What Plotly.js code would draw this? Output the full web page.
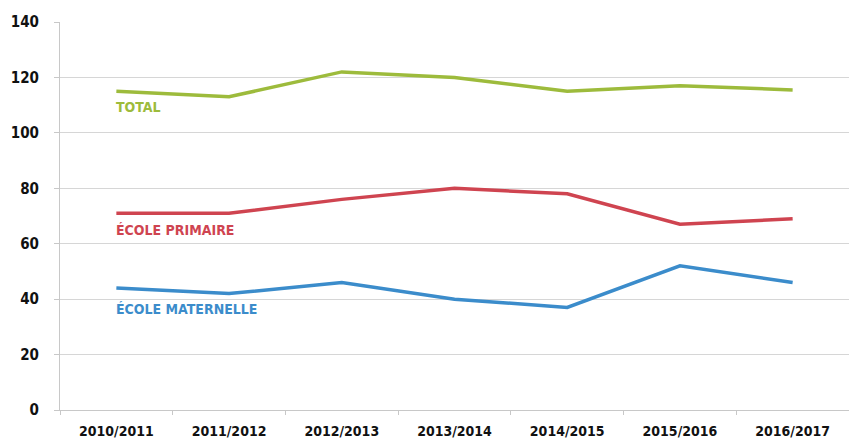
<!DOCTYPE html>
<html><head><meta charset="utf-8">
<script src="https://cdn.plot.ly/plotly-3.0.1.min.js"></script>
<style>html,body{margin:0;padding:0;background:#fff;}#chart{width:849px;height:440px;}</style>
</head><body><div id="chart"></div>
<script>
const categories = ["2010/2011","2011/2012","2012/2013","2013/2014","2014/2015","2015/2016","2016/2017"];
const total = [115, 113, 122, 120, 115, 117, 115.5];
const primaire = [71, 71, 76, 80, 78, 67, 69];
const maternelle = [44, 42, 46, 40, 37, 52, 46];
const seriesNames = ["TOTAL", "ÉCOLE PRIMAIRE", "ÉCOLE MATERNELLE"];
const yTicks = [0, 20, 40, 60, 80, 100, 120, 140];

const colors = ["#9dbb3c", "#cf4450", "#3b8ccb"];
const labelShift = [-6, -7, -11];
const data = [total, primaire, maternelle].map((v, i) => ({
  x: categories, y: v, type: "scatter", mode: "lines", name: seriesNames[i],
  line: {color: colors[i], width: 3.5}, hoverinfo: "skip"
}));
const annotations = [total, primaire, maternelle].map((v, i) => ({
  x: 0, y: v[0], xref: "x", yref: "y", text: seriesNames[i], showarrow: false,
  xanchor: "left", yanchor: "top", xshift: -2, yshift: labelShift[i],
  font: {family: "DejaVu Sans Condensed, DejaVu Sans, sans-serif", size: 14, color: colors[i], weight: "bold", stretch: "condensed"}
}));
const layout = {
  width: 849, height: 440,
  margin: {l: 60, r: 0, t: 22, b: 30},
  paper_bgcolor: "#fff", plot_bgcolor: "#fff",
  showlegend: false,
  xaxis: {
    type: "category", range: [-0.5, 6.5], tickson: "boundaries",
    ticks: "outside", ticklen: 4, tickcolor: "#c8c8c8",
    ticklabelstandoff: 8,
    showgrid: false, showline: true, linecolor: "#c8c8c8", linewidth: 1,
    tickfont: {family: "DejaVu Sans Condensed, DejaVu Sans, sans-serif", size: 14, color: "#111", weight: "bold", stretch: "condensed"}
  },
  yaxis: {
    range: [0, 140], tickvals: yTicks, ticktext: yTicks.map(String),
    ticks: "outside", ticklen: 5, tickcolor: "#c8c8c8",
    ticklabelstandoff: 12,
    showgrid: true, gridcolor: "#d6d6d6", gridwidth: 1,
    zeroline: false, showline: true, linecolor: "#c8c8c8",
    tickfont: {family: "DejaVu Sans Condensed, DejaVu Sans, sans-serif", size: 15, color: "#111", weight: "bold", stretch: "condensed"}
  },
  annotations: annotations
};
Plotly.newPlot("chart", data, layout, {staticPlot: true});
</script></body></html>
